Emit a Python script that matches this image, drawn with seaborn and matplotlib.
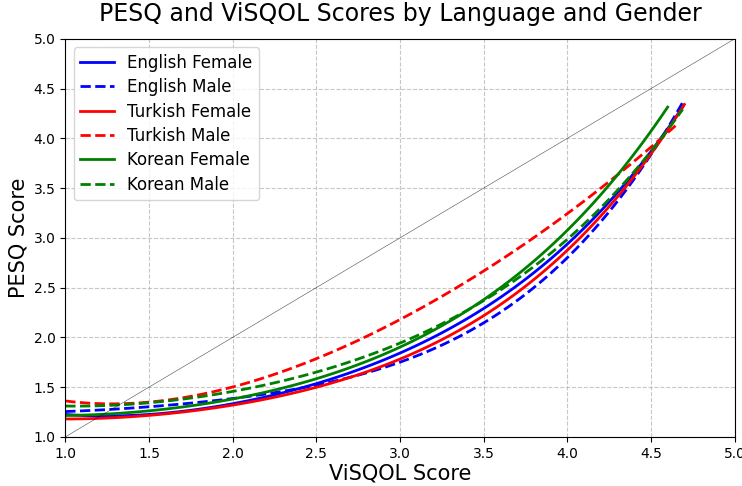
import numpy as np
import pandas as pd
import matplotlib
matplotlib.use('Agg')
import matplotlib.pyplot as plt
import seaborn as sns

# ViSQOL sample positions
x_common = [1.0, 1.5, 2.0, 2.5, 3.0, 3.25, 3.5, 3.75, 4.0, 4.25, 4.5]

english_female_x = x_common + [4.69]
english_female_y = [1.21, 1.265, 1.34, 1.47, 1.81, 2.08, 2.38, 2.61, 2.85, 3.35, 3.86, 4.34]

english_male_x = x_common + [4.69]
english_male_y = [1.24, 1.34, 1.39, 1.47, 1.70, 1.96, 2.23, 2.48, 2.70, 3.26, 3.82, 4.39]

turkish_female_x = x_common + [4.70]
turkish_female_y = [1.165, 1.255, 1.32, 1.45, 1.73, 2.02, 2.31, 2.54, 2.78, 3.31, 3.84, 4.36]

turkish_male_x = x_common + [4.66]
turkish_male_y = [1.36, 1.355, 1.50, 1.77, 2.20, 2.43, 2.645, 2.93, 3.25, 3.57, 3.92, 4.14]

korean_female_x = x_common + [4.55, 4.60]
korean_female_y = [1.20, 1.30, 1.38, 1.54, 1.86, 2.14, 2.46, 2.73, 3.02, 3.50, 4.00, 4.22, 4.37]

korean_male_x = x_common + [4.69]
korean_male_y = [1.30, 1.37, 1.455, 1.62, 1.91, 2.16, 2.43, 2.68, 2.91, 3.38, 3.88, 4.30]

series = [
    ('English Female', english_female_x, english_female_y, 'blue', '-'),
    ('English Male', english_male_x, english_male_y, 'blue', '--'),
    ('Turkish Female', turkish_female_x, turkish_female_y, 'red', '-'),
    ('Turkish Male', turkish_male_x, turkish_male_y, 'red', '--'),
    ('Korean Female', korean_female_x, korean_female_y, 'green', '-'),
    ('Korean Male', korean_male_x, korean_male_y, 'green', '--'),
]

fig, ax = plt.subplots(figsize=(7.42, 4.86), dpi=100)

# polynomial trend per group, fitted by seaborn
for name, xs, ys, color, ls in series:
    df = pd.DataFrame({'ViSQOL': xs, 'PESQ': ys})
    sns.regplot(data=df, x='ViSQOL', y='PESQ', order=4, ci=None, scatter=False,
                color=color, label=name, ax=ax,
                line_kws={'linestyle': ls, 'linewidth': 2})

# reference diagonal
ax.plot([1, 5], [1, 5], color='black', linewidth=0.4, alpha=0.7)

ax.set_xlim(1, 5)
ax.set_ylim(1, 5)
ax.set_xlabel('ViSQOL Score', fontsize=15, labelpad=2)
ax.set_ylabel('PESQ Score', fontsize=15)
ax.set_title('PESQ and ViSQOL Scores by Language and Gender', fontsize=17, pad=13)
ax.grid(True, linestyle='--', alpha=0.7)
ax.legend(loc='upper left', fontsize=12, labelspacing=0.38)

fig.subplots_adjust(left=0.088, right=0.99, top=0.92, bottom=0.101)
plt.savefig('out.png', dpi=100)
